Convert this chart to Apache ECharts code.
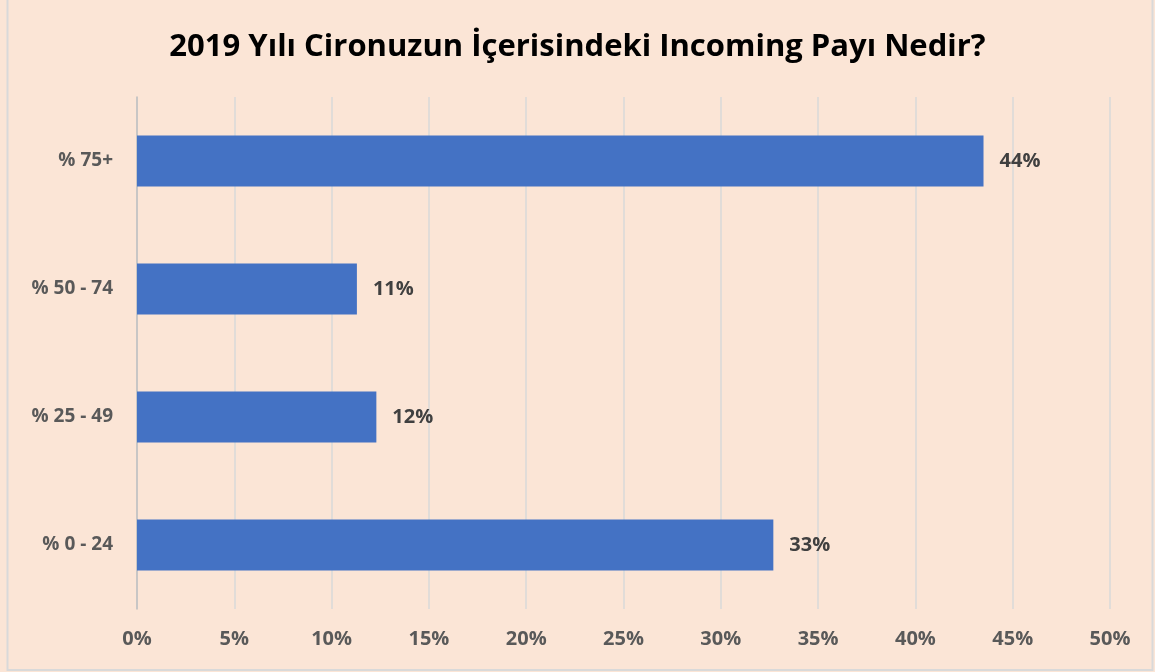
<!DOCTYPE html>
<html>
<head>
<meta charset="utf-8">
<script src="https://cdn.jsdelivr.net/npm/echarts@6/dist/echarts.min.js"></script>
<style>
  html, body { margin: 0; padding: 0; background: #fbe5d6; }
  #chart { width: 1155px; height: 672px; }
</style>
</head>
<body>
<div id="chart"></div>
<script>
  // veriler
  const categories = ['% 0 - 24', '% 25 - 49', '% 50 - 74', '% 75+'];
  const shares = [32.7, 12.3, 11.3, 43.5];
  const labels = ['33%', '12%', '11%', '44%'];

  let myChart = echarts.init(document.getElementById('chart'));
  myChart.setOption({
    backgroundColor: '#fbe5d6',
    title: {
      text: '2019 Yılı Cironuzun İçerisindeki Incoming Payı Nedir?',
      left: 'center',
      top: 27,
      textStyle: {
        fontFamily: 'Open Sans',
        fontWeight: 'bold',
        fontSize: 31,
        color: '#000'
      }
    },
    graphic: [{
      type: 'rect',
      shape: { x: 7.5, y: -2, width: 1145, height: 672 },
      style: { fill: 'none', stroke: '#d9d9d9', lineWidth: 2 },
      silent: true
    }],
    grid: {
      left: 137,
      right: 45,
      top: 97,
      bottom: 63
    },
    xAxis: {
      type: 'value',
      min: 0,
      max: 50,
      interval: 5,
      axisLine: { show: false },
      axisTick: { show: false },
      splitLine: { lineStyle: { color: '#d9d9d9', width: 1.5 } },
      axisLabel: {
        formatter: '{value}%',
        margin: 20,
        fontFamily: 'Open Sans',
        fontWeight: 'bold',
        fontSize: 20,
        color: '#595959'
      }
    },
    yAxis: {
      type: 'category',
      data: categories,
      axisLine: { show: true, lineStyle: { color: '#bfbfbf', width: 1.5 } },
      axisTick: { show: false },
      axisLabel: {
        margin: 24,
        fontFamily: 'Open Sans',
        fontWeight: 'bold',
        fontSize: 19,
        color: '#595959'
      }
    },
    series: [{
      type: 'bar',
      data: shares,
      barWidth: '40%',
      itemStyle: { color: '#4472c4' },
      label: {
        show: true,
        position: 'right',
        distance: 16,
        formatter: p => labels[p.dataIndex],
        fontFamily: 'Open Sans',
        fontWeight: 'bold',
        fontSize: 20,
        color: '#404040'
      }
    }]
  });
</script>
</body>
</html>
